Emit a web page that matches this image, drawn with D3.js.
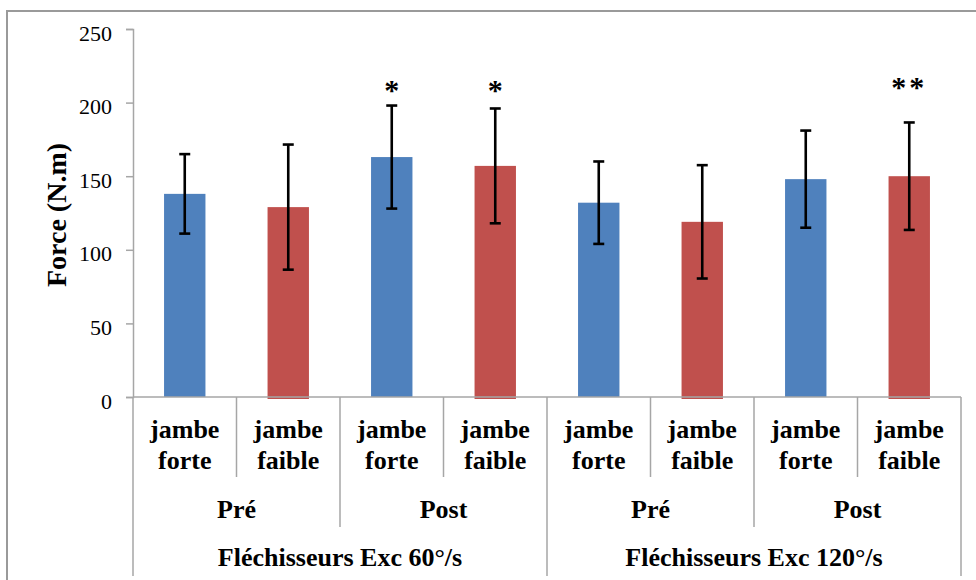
<!DOCTYPE html>
<html>
<head>
<meta charset="utf-8">
<script src="https://cdn.jsdelivr.net/npm/d3@7"></script>
<style>
  html, body { margin: 0; padding: 0; background: #fff; }
  svg { display: block; }
</style>
</head>
<body>
<svg id="chart" width="976" height="580"></svg>
<script>
// ---- data ----
const groups = ["Fléchisseurs Exc 60°/s", "Fléchisseurs Exc 120°/s"];
const phases = ["Pré", "Post", "Pré", "Post"];
const legs = ["jambe forte", "jambe faible", "jambe forte", "jambe faible",
              "jambe forte", "jambe faible", "jambe forte", "jambe faible"];
const means = [138, 129, 163, 157, 132, 119, 148, 150];
const errs  = [27, 42.5, 35, 39, 28, 38.5, 33, 36.5];
const stars = ["", "", "*", "*", "", "", "", "**"];
const starLevels = [0, 0, 202, 202, 0, 0, 0, 204];
const yTicks = [0, 50, 100, 150, 200, 250];
const colors = ["#4F81BD", "#C0504D"];

// ---- layout ----
const FONT = "'Liberation Serif', 'Times New Roman', serif";
const svg = d3.select("#chart");
const left = 133, right = 961, y0 = 397, yTop = 29;
const axisColor = "#A6A6A6";

svg.append("rect").attr("x", 7).attr("y", 11).attr("width", 1000).attr("height", 600)
  .attr("fill", "#fff").attr("stroke", "#9A9A9A").attr("stroke-width", 2);

const y = d3.scaleLinear().domain([0, 250]).range([y0, yTop]);
const idx = d3.range(legs.length);
const x = d3.scaleBand().domain(idx).range([left, right]).paddingInner(0.6).paddingOuter(0.3);
const step = x.step();
const catX = i => left + i * step;  // category boundary

// y axis
const yAxis = d3.axisLeft(y).tickValues(yTicks).tickSize(7).tickPadding(14).tickFormat(d3.format("d"));
const ya = svg.append("g").attr("transform", `translate(${left},0)`).call(yAxis);
ya.select(".domain").attr("stroke", axisColor).attr("stroke-width", 1.5);
ya.selectAll(".tick line").attr("stroke", axisColor).attr("stroke-width", 1.5);
ya.selectAll(".tick text").style("font-family", FONT).style("font-size", "22px")
  .attr("dy", "0.5em").attr("fill", "#000");

// y title
svg.append("text").attr("transform", `translate(66,215) rotate(-90)`)
  .attr("text-anchor", "middle").style("font-family", FONT).style("font-weight", "bold")
  .style("font-size", "28px").text("Force (N.m)");

// bars
svg.selectAll("rect.bar").data(idx).enter().append("rect").attr("class", "bar")
  .attr("x", i => x(i)).attr("width", x.bandwidth())
  .attr("y", i => y(means[i]))
  .attr("height", i => y(0) - y(means[i]) + (i % 2 ? 2 : 0))
  .attr("fill", i => colors[i % 2]);

// x axis line
svg.append("line").attr("x1", left).attr("x2", right).attr("y1", y0).attr("y2", y0)
  .attr("stroke", axisColor).attr("stroke-width", 1.5);

// error bars
const eb = svg.append("g").attr("stroke", "#000").attr("stroke-width", 2.6);
idx.forEach(i => {
  const cx = x(i) + x.bandwidth() / 2;
  const hi = y(means[i] + errs[i]), lo = y(means[i] - errs[i]);
  eb.append("line").attr("x1", cx).attr("x2", cx).attr("y1", hi).attr("y2", lo);
  eb.append("line").attr("x1", cx - 5.5).attr("x2", cx + 5.5).attr("y1", hi).attr("y2", hi);
  eb.append("line").attr("x1", cx - 5.5).attr("x2", cx + 5.5).attr("y1", lo).attr("y2", lo);
});

// stars
svg.selectAll("text.star").data(idx.filter(i => stars[i])).enter().append("text")
  .attr("class", "star").attr("x", i => x(i) + x.bandwidth() / 2)
  .attr("y", i => y(starLevels[i]))
  .attr("text-anchor", "middle").style("font-family", FONT).style("font-size", "30px")
  .style("font-weight", "bold")
  .style("letter-spacing", i => stars[i].length > 1 ? "3px" : "0px")
  .text(i => stars[i]);

// category separators
const sep = svg.append("g").attr("stroke", axisColor).attr("stroke-width", 1.5);
d3.range(legs.length + 1).forEach(k => {
  let bottom = 477;
  if (k % 2 === 0) bottom = 527;
  if (k % 4 === 0) bottom = 576;
  sep.append("line").attr("x1", catX(k)).attr("x2", catX(k)).attr("y1", y0).attr("y2", bottom);
});

function label(xp, yp) {
  return svg.append("text").attr("x", xp).attr("y", yp).attr("text-anchor", "middle")
    .style("font-family", FONT).style("font-weight", "bold").style("font-size", "26px");
}
// level 1 labels
idx.forEach(i => {
  const cx = catX(i) + step / 2;
  const parts = legs[i].split(" ");
  const t = label(cx, 438);
  t.append("tspan").attr("x", cx).attr("y", 438).text(parts[0]);
  t.append("tspan").attr("x", cx).attr("y", 469).text(parts[1]);
});
// level 2 labels
phases.forEach((p, j) => label(catX(2 * j) + step, 518).text(p));
// level 3 labels
groups.forEach((g, j) => label(catX(4 * j) + 2 * step, 566).text(g));
</script>
</body>
</html>
